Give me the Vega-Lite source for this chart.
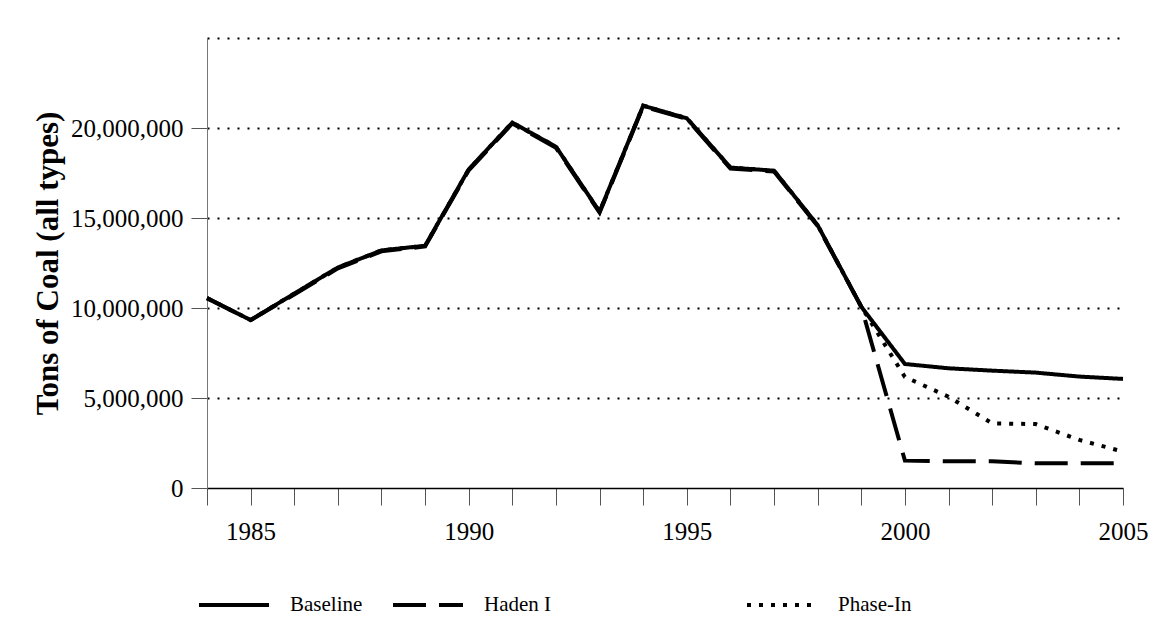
{
  "$schema": "https://vega.github.io/schema/vega-lite/v6.json",
  "width": 916,
  "height": 450,
  "autosize": "none",
  "padding": {"left": 207, "top": 38, "right": 33, "bottom": 153},
  "background": "white",
  "config": {"view": {"stroke": null}, "font": "Liberation Serif"},
  "data": {
    "values": [
      {"year": 1984, "series": "Baseline", "tons": 10550000},
      {"year": 1985, "series": "Baseline", "tons": 9330000},
      {"year": 1986, "series": "Baseline", "tons": 10800000},
      {"year": 1987, "series": "Baseline", "tons": 12250000},
      {"year": 1988, "series": "Baseline", "tons": 13200000},
      {"year": 1989, "series": "Baseline", "tons": 13460000},
      {"year": 1990, "series": "Baseline", "tons": 17700000},
      {"year": 1991, "series": "Baseline", "tons": 20300000},
      {"year": 1992, "series": "Baseline", "tons": 18960000},
      {"year": 1993, "series": "Baseline", "tons": 15350000},
      {"year": 1994, "series": "Baseline", "tons": 21240000},
      {"year": 1995, "series": "Baseline", "tons": 20540000},
      {"year": 1996, "series": "Baseline", "tons": 17800000},
      {"year": 1997, "series": "Baseline", "tons": 17630000},
      {"year": 1998, "series": "Baseline", "tons": 14600000},
      {"year": 1999, "series": "Baseline", "tons": 10070000},
      {"year": 2000, "series": "Baseline", "tons": 6890000},
      {"year": 2001, "series": "Baseline", "tons": 6650000},
      {"year": 2002, "series": "Baseline", "tons": 6520000},
      {"year": 2003, "series": "Baseline", "tons": 6410000},
      {"year": 2004, "series": "Baseline", "tons": 6190000},
      {"year": 2005, "series": "Baseline", "tons": 6060000},
      {"year": 1984, "series": "Haden I", "tons": 10550000},
      {"year": 1985, "series": "Haden I", "tons": 9330000},
      {"year": 1986, "series": "Haden I", "tons": 10750000},
      {"year": 1987, "series": "Haden I", "tons": 12200000},
      {"year": 1988, "series": "Haden I", "tons": 13150000},
      {"year": 1989, "series": "Haden I", "tons": 13420000},
      {"year": 1990, "series": "Haden I", "tons": 17650000},
      {"year": 1991, "series": "Haden I", "tons": 20250000},
      {"year": 1992, "series": "Haden I", "tons": 18900000},
      {"year": 1993, "series": "Haden I", "tons": 15300000},
      {"year": 1994, "series": "Haden I", "tons": 21200000},
      {"year": 1995, "series": "Haden I", "tons": 20500000},
      {"year": 1996, "series": "Haden I", "tons": 17750000},
      {"year": 1997, "series": "Haden I", "tons": 17580000},
      {"year": 1998, "series": "Haden I", "tons": 14560000},
      {"year": 1999, "series": "Haden I", "tons": 10070000},
      {"year": 2000, "series": "Haden I", "tons": 1520000},
      {"year": 2001, "series": "Haden I", "tons": 1480000},
      {"year": 2002, "series": "Haden I", "tons": 1480000},
      {"year": 2003, "series": "Haden I", "tons": 1370000},
      {"year": 2004, "series": "Haden I", "tons": 1370000},
      {"year": 2005, "series": "Haden I", "tons": 1370000},
      {"year": 1984, "series": "Phase-In", "tons": 10550000},
      {"year": 1985, "series": "Phase-In", "tons": 9330000},
      {"year": 1986, "series": "Phase-In", "tons": 10800000},
      {"year": 1987, "series": "Phase-In", "tons": 12250000},
      {"year": 1988, "series": "Phase-In", "tons": 13200000},
      {"year": 1989, "series": "Phase-In", "tons": 13460000},
      {"year": 1990, "series": "Phase-In", "tons": 17700000},
      {"year": 1991, "series": "Phase-In", "tons": 20300000},
      {"year": 1992, "series": "Phase-In", "tons": 18960000},
      {"year": 1993, "series": "Phase-In", "tons": 15350000},
      {"year": 1994, "series": "Phase-In", "tons": 21240000},
      {"year": 1995, "series": "Phase-In", "tons": 20540000},
      {"year": 1996, "series": "Phase-In", "tons": 17800000},
      {"year": 1997, "series": "Phase-In", "tons": 17630000},
      {"year": 1998, "series": "Phase-In", "tons": 14600000},
      {"year": 1999, "series": "Phase-In", "tons": 10070000},
      {"year": 2000, "series": "Phase-In", "tons": 6170000},
      {"year": 2001, "series": "Phase-In", "tons": 5070000},
      {"year": 2002, "series": "Phase-In", "tons": 3590000},
      {"year": 2003, "series": "Phase-In", "tons": 3550000},
      {"year": 2004, "series": "Phase-In", "tons": 2670000},
      {"year": 2005, "series": "Phase-In", "tons": 2020000}
    ]
  },
  "mark": {"type": "line", "strokeWidth": 4, "color": "black", "strokeCap": "butt"},
  "encoding": {
    "x": {
      "field": "year",
      "type": "quantitative",
      "scale": {"domain": [1984, 2005], "nice": false, "zero": false},
      "axis": {
        "title": null,
        "grid": false,
        "values": [1984, 1985, 1986, 1987, 1988, 1989, 1990, 1991, 1992, 1993, 1994, 1995, 1996, 1997, 1998, 1999, 2000, 2001, 2002, 2003, 2004, 2005],
        "labelExpr": "datum.value % 5 == 0 ? format(datum.value, 'd') : ''",
        "labelFont": "Liberation Serif",
        "labelFontSize": 25,
        "labelColor": "black",
        "labelPadding": 14,
        "labelFlush": false,
        "labelOverlap": false,
        "tickSize": 17,
        "tickColor": "#555555",
        "tickWidth": 1,
        "domainColor": "black",
        "domainWidth": 1.5
      }
    },
    "y": {
      "field": "tons",
      "type": "quantitative",
      "scale": {"domain": [0, 25000000], "nice": false},
      "axis": {
        "title": "Tons of Coal (all types)",
        "titleFont": "Liberation Serif",
        "titleFontSize": 31,
        "titleFontWeight": "bold",
        "titleColor": "black",
        "titlePadding": 6,
        "values": [0, 5000000, 10000000, 15000000, 20000000, 25000000],
        "format": ",d",
        "labelExpr": "datum.value >= 25000000 ? '' : datum.label",
        "labelFont": "Liberation Serif",
        "labelFontSize": 25,
        "labelColor": "black",
        "labelPadding": 8,
        "tickSize": 16,
        "tickColor": "#555555",
        "tickOpacity": {"condition": {"test": "datum.value >= 25000000", "value": 0}, "value": 1},
        "domainColor": "#777777",
        "domainWidth": 1,
        "grid": true,
        "gridColor": "black",
        "gridWidth": 2,
        "gridDash": [2, 8],
        "gridOpacity": {"condition": {"test": "datum.value == 0", "value": 0}, "value": 1}
      }
    },
    "strokeDash": {
      "field": "series",
      "type": "nominal",
      "scale": {"domain": ["Baseline", "Haden I", "Phase-In"], "range": [[1, 0], [33, 13], [4, 8]]},
      "legend": {
        "title": null,
        "orient": "none",
        "legendX": -10,
        "legendY": 530,
        "direction": "horizontal",
        "symbolType": "stroke",
        "symbolSize": 4900,
        "symbolStrokeWidth": 4,
        "symbolStrokeColor": "black",
        "labelFont": "Liberation Serif",
        "labelFontSize": 21,
        "labelColor": "black",
        "labelOffset": 19,
        "labelLimit": 600,
        "columnPadding": 22,
        "labelExpr": "datum.label == 'Haden I' ? 'Haden I\u2800\u2800\u2800\u2800\u2800\u2800\u2800\u2800\u2800\u2800\u2800' : datum.label"
      }
    }
  }
}
